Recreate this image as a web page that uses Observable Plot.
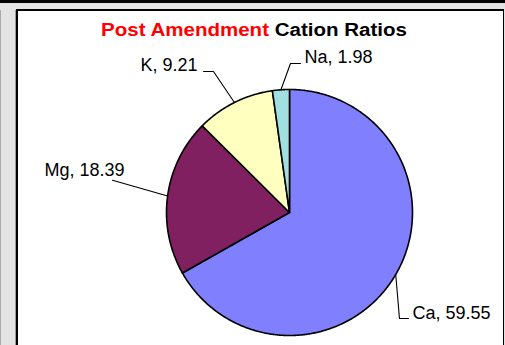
<!DOCTYPE html>
<html>
<head>
<meta charset="utf-8">
<script src="https://cdn.jsdelivr.net/npm/d3@7"></script>
<script src="https://cdn.jsdelivr.net/npm/@observablehq/plot@0.6"></script>
<style>
  html, body { margin: 0; padding: 0; }
  body { width: 505px; height: 345px; overflow: hidden; position: relative; background: #e3e3e3; font-family: "Liberation Sans", Arial, sans-serif; }
  .band { position: absolute; left: 0; top: 0; width: 505px; height: 3px; background: #000; }
  .lline { position: absolute; left: 0; top: 10px; width: 1px; height: 340px; background: #a8a8a8; }
  .lline2 { position: absolute; left: 15px; top: 10px; width: 1px; height: 340px; background: #9a9a9a; }
  .panel { position: absolute; left: 16px; top: 9px; width: 485px; height: 400px; background: #fff; border-left: 2px solid #000; border-top: 2px solid #000; border-right: 1px solid #000; }
  .title { position: absolute; left: 0; width: 508px; top: 20.5px; text-align: center; font-weight: bold; font-size: 18px; line-height: 18px; transform: scaleX(1.14); transform-origin: 254px 0; white-space: nowrap; }
  .title .red { color: #ff0000; }
  .title .blk { color: #000; }
  #chart { position: absolute; left: 0; top: 0; }
</style>
</head>
<body>
<div class="band"></div>
<div class="lline"></div>
<div class="lline2"></div>
<div class="panel"></div>
<div class="title"><span class="red">Post Amendment</span> <span class="blk">Cation Ratios</span></div>
<div id="chart"></div>
<script>
// ---- data ----
const categories = ["Ca", "Mg", "K", "Na"];
const values = [59.55, 18.39, 9.21, 1.98];
const labels = ["Ca, 59.55", "Mg, 18.39", "K, 9.21", "Na, 1.98"];
const colors = ["#8080ff", "#802060", "#ffffc0", "#a0e0e0"];

// ---- label layout (in pie-radius units, relative to pie centre) ----
const labelLayout = {
  Ca: {text: [1.0, -0.821], anchor: "start", path: [[0.894, -0.862], [0.967, -0.862]]},
  Mg: {text: [-1.341, 0.341], anchor: "end", path: [[-1.439, 0.262]]},
  K:  {text: [-0.748, 1.195], anchor: "end", path: [[-0.618, 1.146], [-0.699, 1.146]]},
  Na: {text: [0.122, 1.260], anchor: "start", path: [[0.008, 1.211], [0.089, 1.211]]}
};

const table = categories.map((c, i) => ({name: c, value: values[i], label: labels[i], color: colors[i]}));
const arcs = d3.pie().sort(null).value(d => d.value)(table);

// slice outlines (unit circle, clockwise from 12 o'clock)
const slicePts = [];
for (const a of arcs) {
  const n = Math.max(2, Math.ceil((a.endAngle - a.startAngle) / (Math.PI / 360)));
  slicePts.push({name: a.data.name, color: a.data.color, x: 0, y: 0});
  for (let k = 0; k <= n; k++) {
    const t = a.startAngle + (a.endAngle - a.startAngle) * k / n;
    slicePts.push({name: a.data.name, color: a.data.color, x: Math.sin(t), y: Math.cos(t)});
  }
  slicePts.push({name: a.data.name, color: a.data.color, x: 0, y: 0});
}

// leader lines and label anchors
const leaderPts = [];
const labelPts = [];
for (const a of arcs) {
  const m = (a.startAngle + a.endAngle) / 2;
  const L = labelLayout[a.data.name];
  leaderPts.push({name: a.data.name, x: Math.sin(m), y: Math.cos(m)});
  for (const p of L.path) leaderPts.push({name: a.data.name, x: p[0], y: p[1]});
  labelPts.push({name: a.data.name, label: a.data.label, anchor: L.anchor, x: L.text[0], y: L.text[1]});
}

const font = "Liberation Sans, Arial, sans-serif";
const chart = Plot.plot({
  width: 505,
  height: 345,
  marginLeft: 166,
  marginRight: 93,
  marginTop: 89,
  marginBottom: 10,
  style: {background: "transparent", overflow: "visible"},
  x: {domain: [-1, 1], axis: null},
  y: {domain: [-1, 1], axis: null},
  color: {type: "identity"},
  marks: [
    Plot.line(slicePts, {x: "x", y: "y", z: "name", fill: "color", stroke: "#000", strokeWidth: 1.6, curve: "linear", strokeLinejoin: "round"}),
    Plot.line(leaderPts, {x: "x", y: "y", z: "name", stroke: "#000", strokeWidth: 1.1, curve: "linear"}),
    Plot.text(labelPts.filter(d => d.anchor === "start"), {x: "x", y: "y", text: "label", textAnchor: "start", fontSize: 18, fontFamily: font, fill: "#000"}),
    Plot.text(labelPts.filter(d => d.anchor === "end"), {x: "x", y: "y", text: "label", textAnchor: "end", fontSize: 18, fontFamily: font, fill: "#000"})
  ]
});
document.getElementById("chart").appendChild(chart);
</script>
</body>
</html>
